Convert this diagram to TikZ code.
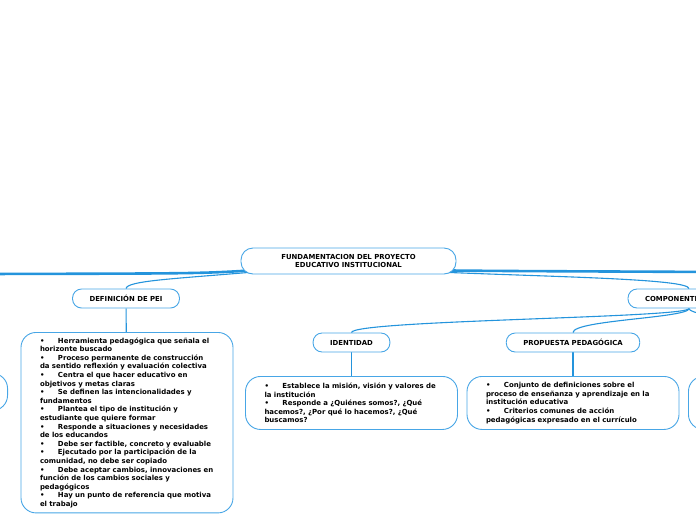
\documentclass[tikz,border=0pt]{standalone}
\usepackage{fontspec}
\setmainfont{DejaVu Sans}
\usetikzlibrary{backgrounds}

\definecolor{mapblue}{RGB}{36,148,220}
\definecolor{boxblue}{RGB}{72,166,230}

\tikzset{
  topic/.style={draw=boxblue, line width=0.9pt, fill=white, rounded corners=12pt,
    font=\bfseries\fontsize{6.9}{8.5}\selectfont, align=center,
    minimum width=215pt, minimum height=26pt},
  subtopic/.style={draw=boxblue, line width=0.9pt, fill=white, rounded corners=9pt,
    font=\bfseries\fontsize{6.9}{8.5}\selectfont, inner xsep=17pt, minimum height=19pt},
  notebox/.style={draw=boxblue, line width=0.9pt, fill=white, rounded corners=15pt,
    font=\bfseries\fontsize{6.95}{8.6}\selectfont, text width=174pt, inner xsep=19pt,
    inner ysep=5pt, align=left, minimum height=53pt, anchor=north},
  branch/.style={draw=mapblue, line width=1.1pt},
  trunk/.style={draw=mapblue, line width=2.6pt},
}
\newcommand{\itm}{\makebox[18pt][l]{•}}

\begin{document}
\begin{tikzpicture}[x=1pt, y=-1pt]
        \path[use as bounding box, clip] (0,0) rectangle (696,520);

        % Central topic
        \node[topic] (main) at (348.5,261) {FUNDAMENTACION DEL PROYECTO\\ EDUCATIVO INSTITUCIONAL};

        % Main branches
        \node[subtopic] (def) at (126,298.5) {DEFINICIÓN DE PEI};
        \node[subtopic, minimum width=122pt, text width=88pt, inner xsep=0pt, align=left] (comp) at (689,298.5) {COMPONENTES};

        % Sub branches of the components
        \node[subtopic] (ident) at (351.5,342.5) {IDENTIDAD};
        \node[subtopic] (prop) at (573,342.5) {PROPUESTA PEDAGÓGICA};

        % Notes
        \node[notebox] (defnote) at (127,332) {\itm Herramienta pedagógica que señala el\\ horizonte buscado\\
          \itm Proceso permanente de construcción\\ da sentido reflexión y evaluación colectiva\\
          \itm Centra el que hacer educativo en\\ objetivos y metas claras\\
          \itm Se definen las intencionalidades y\\ fundamentos\\
          \itm Plantea el tipo de institución y\\ estudiante que quiere formar\\
          \itm Responde a situaciones y necesidades\\ de los educandos\\
          \itm Debe ser factible, concreto y evaluable\\
          \itm Ejecutado por la participación de la\\ comunidad, no debe ser copiado\\
          \itm Debe aceptar cambios, innovaciones en\\ función de los cambios sociales y\\ pedagógicos\\
          \itm Hay un punto de referencia que motiva\\ el trabajo};
        \node[notebox] (identnote) at (351.5,376) {\itm Establece la misión, visión y valores de\\ la institución\\
          \itm Responde a ¿Quiénes somos?, ¿Qué\\ hacemos?, ¿Por qué lo hacemos?, ¿Qué\\ buscamos?};
        \node[notebox] (propnote) at (573,376) {\itm Conjunto de definiciones sobre el\\ proceso de enseñanza y aprendizaje en la\\ institución educativa\\
          \itm Criterios comunes de acción\\ pedagógicas expresado en el currículo};

        % Boxes cut off at the edges
        \node[notebox, minimum height=37pt, anchor=north east] (leftnote) at (8,373) {};
        \node[notebox, anchor=north west] (rightnote) at (688,376) {};

        % Ends outside the picture
        \coordinate (farleft) at (-20,274);
        \coordinate (farright) at (720,272);
        \coordinate (rightsub) at (794,333);

        % Connectors
        \begin{scope}[on background layer]
          \draw[trunk] ([xshift=10pt,yshift=4pt]main.south west) .. controls (200,273.5) .. (farleft);
          \draw[trunk] ([xshift=-10pt,yshift=4pt]main.south east) .. controls (500,271) .. (farright);
          \draw[branch] ([xshift=8pt,yshift=2pt]main.south west) .. controls (170,279) and (127,281) .. (def.north);
          \draw[branch] ([xshift=-8pt,yshift=2pt]main.south east) .. controls (560,277) and (688,279) .. (comp.north);
          \draw[branch] (comp.south) .. controls (689,318) and (352,320) .. (ident.north);
          \draw[branch] (comp.south) .. controls (689,318) and (573,320) .. (prop.north);
          \draw[branch] (comp.south) .. controls (689,318) and (794,320) .. (rightsub);
          \draw[branch] (def) -- (defnote);
          \draw[branch] (ident) -- (identnote);
          \draw[branch] (prop) -- (propnote);
        \end{scope}
    \end{tikzpicture}
\end{document}
